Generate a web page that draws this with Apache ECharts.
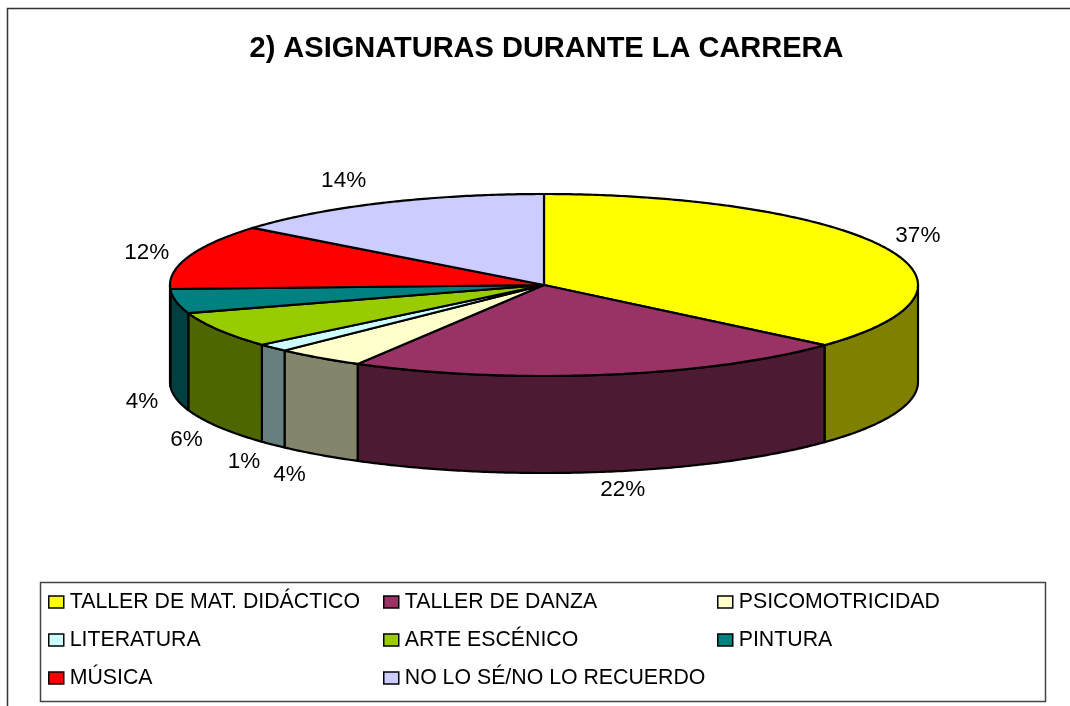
<!DOCTYPE html>
<html><head><meta charset="utf-8">
<script src="https://cdn.jsdelivr.net/npm/echarts@6/dist/echarts.min.js"></script>
<style>html,body{margin:0;padding:0;background:#fff}#c{width:1070px;height:706px}</style>
</head><body><div id="c"></div>
<script>
const categories = ['TALLER DE MAT. DIDÁCTICO','TALLER DE DANZA','PSICOMOTRICIDAD','LITERATURA','ARTE ESCÉNICO','PINTURA','MÚSICA','NO LO SÉ/NO LO RECUERDO'];
const values = [36.5,21.8,3.9,1.4,6.4,4.3,11.5,14.2];
const topColors = ['#FFFF00','#993366','#FFFFCC','#CCFFFF','#99CC00','#008080','#FF0000','#CCCCFF'];
const wallColors = ['#808000','#4D1A33','#85856B','#668080','#4D6600','#004040','#800000','#666680'];
const legendColumns = [[0,3,6],[1,4,7],[2,5]];

const PIE = {cx:544, cy:285, rx:374, ry:91, depth:97};
const labelNudge = [[33,-12],[18,18],[-30,20],[-29,17],[-32,13],[-34,4],[-42,-4],[-39,-22]];
const FONT = 'Liberation Sans, Arial, sans-serif';
const total = values.reduce((a,b)=>a+b,0);
const starts = values.map((_,i)=>values.slice(0,i).reduce((a,b)=>a+b,0));

const pt = (t,dy)=>[PIE.cx+PIE.rx*Math.sin(t), PIE.cy-PIE.ry*Math.cos(t)+(dy||0)];
const arc = (a,b,dy)=>{const n=Math.max(2,Math.ceil((b-a)/0.01)),o=[];for(let k=0;k<=n;k++)o.push(pt(a+(b-a)*k/n,dy));return o;};

function makeRender(i){
  return function(params,api){
    const v = api.value(0);
    const a = starts[i]/total*2*Math.PI, b = a+v/total*2*Math.PI;
    const children = [];
    const fa = Math.max(a,Math.PI/2), fb = Math.min(b,Math.PI*1.5);
    const line = {stroke:'#000',lineWidth:2.2,lineJoin:'round'};
    if(fb>fa){
      const up = arc(fa,fb,0), down = arc(fa,fb,PIE.depth).reverse();
      children.push({type:'polygon',shape:{points:up.concat(down)},style:Object.assign({fill:wallColors[i]},line)});
    }
    const top = [[PIE.cx,PIE.cy]].concat(arc(a,b,0));
    children.push({type:'polygon',shape:{points:top},style:Object.assign({fill:topColors[i]},line)});
    const m=(a+b)/2, front = m>Math.PI/2 && m<Math.PI*1.5;
    const p = pt(m,front?PIE.depth:0);
    children.push({type:'text',style:{text:Math.round(v/total*100)+'%',x:p[0]+labelNudge[i][0],y:p[1]+labelNudge[i][1],
      align:'center',verticalAlign:'middle',font:'22.5px '+FONT,fill:'#000'}});
    return {type:'group',children};
  };
}

const series = categories.map((name,i)=>({
  type:'custom',name,coordinateSystem:'none',silent:true,animation:false,
  itemStyle:{color:topColors[i]},data:[[values[i]]],renderItem:makeRender(i),z:2
}));

const legendLeft=[48,383,717];
const legend = legendColumns.map((col,k)=>({
  orient:'vertical',left:legendLeft[k],top:590,padding:0,itemWidth:15,itemHeight:12,itemGap:14,selectedMode:false,
  icon:'rect',data:col.map(i=>categories[i]),
  itemStyle:{borderColor:'#000',borderWidth:1.5},
  textStyle:{fontFamily:FONT,fontSize:21.3,color:'#000',lineHeight:24,padding:[0,0,0,1]}
}));

const chart = echarts.init(document.getElementById('c'));
chart.setOption({
  animation:false,backgroundColor:'#fff',
  title:{text:'2) ASIGNATURAS DURANTE LA CARRERA',left:546.5,top:34,textAlign:'center',padding:0,
    textStyle:{fontFamily:FONT,fontSize:29,fontWeight:'bold',color:'#000'}},
  legend,series,
  graphic:[
    {type:'polyline',shape:{points:[[7.5,706],[7.5,8.5],[1070,8.5]]},style:{stroke:'#333',lineWidth:1.5,fill:null},z:0},
    {type:'rect',shape:{x:40.5,y:582.5,width:1005,height:119},style:{fill:'#fff',stroke:'#444',lineWidth:1.5},z:0}
  ]
});
</script></body></html>
